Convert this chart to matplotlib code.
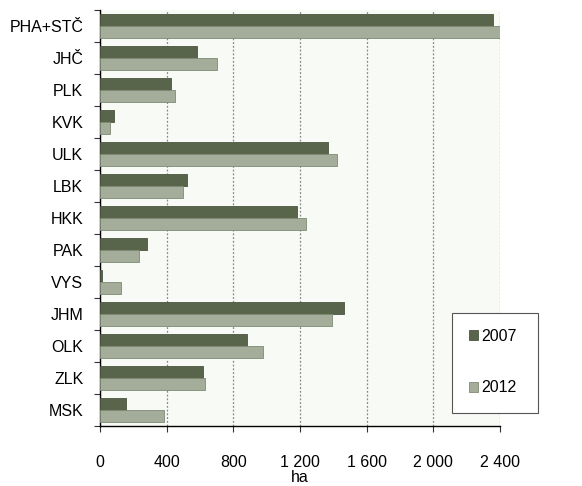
import matplotlib.pyplot as plt
import numpy as np
from matplotlib.ticker import FuncFormatter, FixedLocator
from matplotlib.patches import Rectangle

plt.rcParams['font.family'] = ['Liberation Sans', 'DejaVu Sans']

# Kraje (shora dolů) a plochy v ha
kraje = ['PHA+STČ', 'JHČ', 'PLK', 'KVK', 'ULK', 'LBK', 'HKK', 'PAK', 'VYS', 'JHM', 'OLK', 'ZLK', 'MSK']
ha_2007 = [2356, 580, 424, 82, 1368, 520, 1182, 282, 12, 1462, 880, 616, 154]
ha_2012 = [2400, 700, 448, 58, 1424, 496, 1238, 234, 128, 1390, 980, 632, 382]
x_ticks = [0, 400, 800, 1200, 1600, 2000, 2400]

c07 = '#58654a'
c12 = '#a4ad99'

fig = plt.figure(figsize=(5.82, 4.86), dpi=100)
ax = fig.add_axes([100 / 582, 60 / 486, 400 / 582, 416 / 486])
ax.set_facecolor('#f8faf6')

y = np.arange(len(kraje))
h = 0.36
ax.barh(y - h / 2, ha_2007, height=h, color=c07, edgecolor='#4a5540', linewidth=0.6, label='2007', zorder=3)
ax.barh(y + h / 2, ha_2012, height=h, color=c12, edgecolor='#7f8a74', linewidth=0.6, label='2012', zorder=3)

ax.set_xlim(0, 2400)
ax.set_ylim(len(kraje) - 0.5, -0.5)

# popisky krajů uprostřed, čárky na hranicích skupin
ax.yaxis.set_major_locator(FixedLocator(np.arange(-0.5, len(kraje), 1)))
ax.yaxis.set_major_formatter(FuncFormatter(lambda v, p: ''))
ax.yaxis.set_minor_locator(FixedLocator(y))
ax.set_yticklabels(kraje, minor=True)
ax.tick_params(axis='y', which='major', length=4, width=0.8, color='#333333')
ax.tick_params(axis='y', which='minor', length=0, pad=12, labelsize=11.5)

ax.set_xticks(x_ticks)
ax.xaxis.set_major_formatter(FuncFormatter(lambda v, p: f'{int(v):,}'.replace(',', ' ')))
ax.tick_params(axis='x', length=4, width=0.8, color='#333333', pad=17, labelsize=11.5)
ax.set_xlabel('ha', fontsize=11.5, labelpad=0)

ax.grid(axis='x', linestyle=(0, (1.5, 1.5)), color='#888888', linewidth=0.9, zorder=1)
for s in ['top', 'right']:
    ax.spines[s].set_visible(False)
ax.spines['left'].set_linewidth(1.0)
ax.spines['bottom'].set_linewidth(1.0)

# rámeček legendy
box = Rectangle((452 / 582, 73 / 486), 86 / 582, 100 / 486, transform=fig.transFigure,
                facecolor='white', edgecolor='#555555', linewidth=0.8, zorder=5)
fig.patches.append(box)
leg = fig.legend(loc='center', bbox_to_anchor=(493 / 582, 124 / 486), frameon=False,
                 handlelength=0.55, handleheight=0.55, handletextpad=0.2,
                 labelspacing=2.3, fontsize=11.5)
leg.set_zorder(6)

fig.savefig('out.png', dpi=100)
